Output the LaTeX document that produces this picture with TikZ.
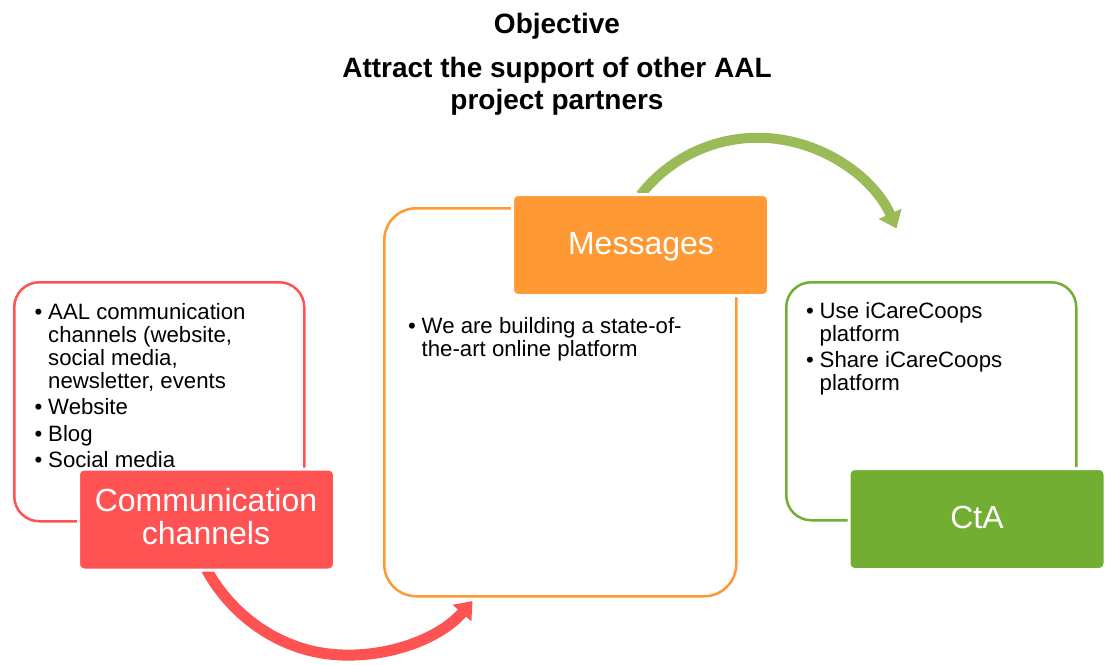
\documentclass[tikz,border=0pt]{standalone}
\usepackage{fontspec}
\setmainfont{Liberation Sans}
\usetikzlibrary{arrows.meta,calc}
\definecolor{cred}{RGB}{255,82,82}
\definecolor{corange}{RGB}{255,153,51}
\definecolor{cgreen}{RGB}{114,174,50}
\definecolor{cgreenarr}{RGB}{155,187,89}
\newcommand{\bul}{\makebox[13.5pt][l]{\textbullet}}
\begin{document}
\begin{tikzpicture}[x=1pt,y=-1pt,
  outbox/.style={draw, line width=2.5pt, fill=white, anchor=north west, inner sep=0pt},
  fillbox/.style={draw=white, line width=3pt, rounded corners=6pt, minimum width=256pt, minimum height=101pt, inner sep=0pt},
  lbl/.style={text=white, inner sep=0pt, anchor=base, font=\fontsize{32}{31.6}\selectfont},
  bullets/.style={text=black, inner sep=0pt, anchor=base west, font=\fontsize{22.2}{23.2}\selectfont},
  flow/.style={line width=11pt, -{Triangle[length=16pt,width=24pt]}}
]
\useasboundingbox (0,0) rectangle (1105,664);

% title
\node[inner sep=0pt, anchor=base, font=\bfseries\fontsize{28}{32.5}\selectfont] (title) at (557,33)
  {\begin{tabular}[t]{@{}c@{}}Objective\\[11.5pt]Attract the support of other AAL\\project partners\end{tabular}};

% outline boxes
\node[outbox, draw=cred, rounded corners=25pt, minimum width=290pt, minimum height=239pt] (rout) at (13,281) {};
\node[outbox, draw=corange, rounded corners=32pt, minimum width=352pt, minimum height=388pt] (oout) at (383,207) {};
\node[outbox, draw=cgreen, rounded corners=25pt, minimum width=290pt, minimum height=238pt] (gout) at (785,281) {};

% bullet texts
\node[bullets] (rtext) at (34.5,319) {\begin{tabular}[t]{@{}l@{}l@{}}
\bul & AAL communication\\
 & channels (website,\\
 & social media,\\
 & newsletter, events\\[3pt]
\bul & Website\\[3pt]
\bul & Blog\\[3pt]
\bul & Social media
\end{tabular}};
\node[bullets] (otext) at (408,333) {\begin{tabular}[t]{@{}l@{}l@{}}
\bul & We are building a state-of-\\
 & the-art online platform
\end{tabular}};
\node[bullets] (gtext) at (806,318) {\begin{tabular}[t]{@{}l@{}l@{}}
\bul & Use iCareCoops\\
 & platform\\[3pt]
\bul & Share iCareCoops\\
 & platform
\end{tabular}};

% filled boxes (positions)
\coordinate (rc) at (206.5,519.5);
\coordinate (oc) at (640.5,245);
\coordinate (gc) at (977,519);

% arrows (drawn below the filled boxes)
\coordinate (rtip) at (472.5,601);
\coordinate (gtip) at (896.5,228.5);
\draw[flow, draw=cred] ($(rc)+(0,50)$) .. controls (232,616) and (278.8,649.2) .. (331.6,654.3)
  .. controls (384.4,659.4) and (438.6,639.8) .. (rtip);
\draw[flow, line width=10pt, draw=cgreenarr] ($(oc)+(0,-50)$) .. controls (674.6,151.5) and (727.6,131.8) .. (779.4,139.3)
  .. controls (831.2,146.8) and (875.3,180.5) .. (gtip);

\node[fillbox, fill=cred] (rfill) at (rc) {};
\node[fillbox, fill=corange] (ofill) at (oc) {};
\node[fillbox, fill=cgreen] (gfill) at (gc) {};

% labels
\node[lbl] (rlbl) at (206,511.7) {\begin{tabular}[t]{@{}c@{}}Communication\\channels\end{tabular}};
\node[lbl] (olbl) at (641,254) {Messages};
\node[lbl] (glbl) at (977,528) {CtA};
\end{tikzpicture}
\end{document}
